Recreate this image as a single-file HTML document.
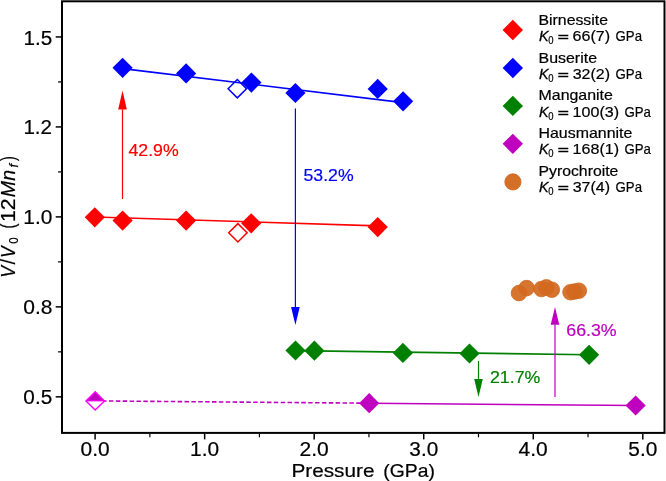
<!DOCTYPE html>
<html><head><meta charset="utf-8"><title>V/V0 vs Pressure</title><style>
html,body{margin:0;padding:0;background:#fff;overflow:hidden;}
svg{display:block;will-change:transform;}
text{font-family:"Liberation Sans", sans-serif;}
</style></head><body>
<svg width="666" height="481" viewBox="0 0 666 481">
<rect x="0" y="0" width="666" height="481" fill="#fff"/>
<line x1="95.10" y1="217.00" x2="377.70" y2="225.90" stroke="#ff0000" stroke-width="1.6" />
<line x1="122.60" y1="68.60" x2="403.10" y2="102.60" stroke="#0000ff" stroke-width="1.6" />
<line x1="295.50" y1="350.60" x2="589.10" y2="354.80" stroke="#008000" stroke-width="1.6" />
<line x1="95.20" y1="400.90" x2="369.20" y2="403.20" stroke="#bf00bf" stroke-width="1.6" stroke-dasharray="4.5 2.37"/>
<line x1="369.20" y1="403.30" x2="635.60" y2="405.50" stroke="#bf00bf" stroke-width="1.6" />
<line x1="122.50" y1="199.00" x2="122.50" y2="109.40" stroke="#ff0000" stroke-width="1.2" /><path d="M118.20 109.40L126.80 109.40L122.50 90.60Z" fill="#ff0000"/>
<line x1="295.40" y1="108.50" x2="295.40" y2="306.90" stroke="#0000ff" stroke-width="1.2" /><path d="M291.10 306.90L299.70 306.90L295.40 325.00Z" fill="#0000ff"/>
<line x1="478.50" y1="361.00" x2="478.50" y2="378.90" stroke="#008000" stroke-width="1.2" /><path d="M474.20 378.90L482.80 378.90L478.50 397.10Z" fill="#008000"/>
<line x1="555.00" y1="397.00" x2="555.00" y2="324.80" stroke="#bf00bf" stroke-width="1.2" /><path d="M550.70 324.80L559.30 324.80L555.00 307.10Z" fill="#bf00bf"/>
<path d="M237.90 223.60L247.10 232.80L237.90 242.00L228.70 232.80Z" fill="none" stroke="#ff0000" stroke-width="1.5"/>
<path d="M237.30 79.50L246.50 88.70L237.30 97.90L228.10 88.70Z" fill="none" stroke="#0000ff" stroke-width="1.5"/>
<path d="M94.80 207.20L104.90 217.30L94.80 227.40L84.70 217.30Z" fill="#ff0000" stroke="none" stroke-width="0"/>
<path d="M122.60 210.50L132.70 220.60L122.60 230.70L112.50 220.60Z" fill="#ff0000" stroke="none" stroke-width="0"/>
<path d="M186.10 210.50L196.20 220.60L186.10 230.70L176.00 220.60Z" fill="#ff0000" stroke="none" stroke-width="0"/>
<path d="M251.20 213.20L261.30 223.30L251.20 233.40L241.10 223.30Z" fill="#ff0000" stroke="none" stroke-width="0"/>
<path d="M377.70 217.00L387.80 227.10L377.70 237.20L367.60 227.10Z" fill="#ff0000" stroke="none" stroke-width="0"/>
<path d="M122.60 57.70L132.70 67.80L122.60 77.90L112.50 67.80Z" fill="#0000ff" stroke="none" stroke-width="0"/>
<path d="M186.10 63.30L196.20 73.40L186.10 83.50L176.00 73.40Z" fill="#0000ff" stroke="none" stroke-width="0"/>
<path d="M251.40 72.50L261.50 82.60L251.40 92.70L241.30 82.60Z" fill="#0000ff" stroke="none" stroke-width="0"/>
<path d="M295.40 82.90L305.50 93.00L295.40 103.10L285.30 93.00Z" fill="#0000ff" stroke="none" stroke-width="0"/>
<path d="M377.70 78.80L387.80 88.90L377.70 99.00L367.60 88.90Z" fill="#0000ff" stroke="none" stroke-width="0"/>
<path d="M403.10 91.20L413.20 101.30L403.10 111.40L393.00 101.30Z" fill="#0000ff" stroke="none" stroke-width="0"/>
<path d="M295.50 340.40L305.60 350.50L295.50 360.60L285.40 350.50Z" fill="#008000" stroke="none" stroke-width="0"/>
<path d="M314.40 340.60L324.50 350.70L314.40 360.80L304.30 350.70Z" fill="#008000" stroke="none" stroke-width="0"/>
<path d="M402.90 342.80L413.00 352.90L402.90 363.00L392.80 352.90Z" fill="#008000" stroke="none" stroke-width="0"/>
<path d="M469.50 343.40L479.60 353.50L469.50 363.60L459.40 353.50Z" fill="#008000" stroke="none" stroke-width="0"/>
<path d="M589.10 344.70L599.20 354.80L589.10 364.90L579.00 354.80Z" fill="#008000" stroke="none" stroke-width="0"/>
<path d="M369.20 393.10L379.30 403.20L369.20 413.30L359.10 403.20Z" fill="#bf00bf" stroke="none" stroke-width="0"/>
<path d="M635.60 395.40L645.70 405.50L635.60 415.60L625.50 405.50Z" fill="#bf00bf" stroke="none" stroke-width="0"/>
<path d="M95.20 391.70L104.40 400.90L95.20 410.10L86.00 400.90Z" fill="#fff" stroke="none" stroke-width="0"/>
<path d="M86.0 400.9L95.2 391.7L104.4 400.9Z" fill="#bf00bf"/>
<path d="M95.20 391.70L104.40 400.90L95.20 410.10L86.00 400.90Z" fill="none" stroke="#ff00ff" stroke-width="1.4"/>
<line x1="86.00" y1="400.90" x2="104.40" y2="400.90" stroke="#ff00ff" stroke-width="1.0" />
<circle cx="519" cy="293.1" r="7.8" fill="rgb(210,105,30)" fill-opacity="0.92" stroke="rgb(210,105,30)" stroke-opacity="0.92" stroke-width="0.9"/>
<circle cx="526.6" cy="288.1" r="7.8" fill="rgb(210,105,30)" fill-opacity="0.92" stroke="rgb(210,105,30)" stroke-opacity="0.92" stroke-width="0.9"/>
<circle cx="541.5" cy="289" r="7.8" fill="rgb(210,105,30)" fill-opacity="0.92" stroke="rgb(210,105,30)" stroke-opacity="0.92" stroke-width="0.9"/>
<circle cx="546.4" cy="287.4" r="7.8" fill="rgb(210,105,30)" fill-opacity="0.92" stroke="rgb(210,105,30)" stroke-opacity="0.92" stroke-width="0.9"/>
<circle cx="551.8" cy="289.7" r="7.8" fill="rgb(210,105,30)" fill-opacity="0.92" stroke="rgb(210,105,30)" stroke-opacity="0.92" stroke-width="0.9"/>
<circle cx="570.5" cy="292.2" r="7.8" fill="rgb(210,105,30)" fill-opacity="0.92" stroke="rgb(210,105,30)" stroke-opacity="0.92" stroke-width="0.9"/>
<circle cx="574.6" cy="291.5" r="7.8" fill="rgb(210,105,30)" fill-opacity="0.92" stroke="rgb(210,105,30)" stroke-opacity="0.92" stroke-width="0.9"/>
<circle cx="578.8" cy="290.7" r="7.8" fill="rgb(210,105,30)" fill-opacity="0.92" stroke="rgb(210,105,30)" stroke-opacity="0.92" stroke-width="0.9"/>
<rect x="62" y="1.3" width="602.5" height="431.6" fill="none" stroke="#000" stroke-width="2"/>
<line x1="95.10" y1="433.90" x2="95.10" y2="439.40" stroke="#000" stroke-width="1.5" />
<line x1="204.64" y1="433.90" x2="204.64" y2="439.40" stroke="#000" stroke-width="1.5" />
<line x1="314.18" y1="433.90" x2="314.18" y2="439.40" stroke="#000" stroke-width="1.5" />
<line x1="423.72" y1="433.90" x2="423.72" y2="439.40" stroke="#000" stroke-width="1.5" />
<line x1="533.26" y1="433.90" x2="533.26" y2="439.40" stroke="#000" stroke-width="1.5" />
<line x1="642.80" y1="433.90" x2="642.80" y2="439.40" stroke="#000" stroke-width="1.5" />
<line x1="149.87" y1="433.90" x2="149.87" y2="437.30" stroke="#000" stroke-width="1.2" />
<line x1="259.41" y1="433.90" x2="259.41" y2="437.30" stroke="#000" stroke-width="1.2" />
<line x1="368.95" y1="433.90" x2="368.95" y2="437.30" stroke="#000" stroke-width="1.2" />
<line x1="478.49" y1="433.90" x2="478.49" y2="437.30" stroke="#000" stroke-width="1.2" />
<line x1="588.03" y1="433.90" x2="588.03" y2="437.30" stroke="#000" stroke-width="1.2" />
<line x1="55.70" y1="36.95" x2="61.00" y2="36.95" stroke="#000" stroke-width="1.5" />
<line x1="55.70" y1="126.92" x2="61.00" y2="126.92" stroke="#000" stroke-width="1.5" />
<line x1="55.70" y1="216.90" x2="61.00" y2="216.90" stroke="#000" stroke-width="1.5" />
<line x1="55.70" y1="306.87" x2="61.00" y2="306.87" stroke="#000" stroke-width="1.5" />
<line x1="55.70" y1="396.85" x2="61.00" y2="396.85" stroke="#000" stroke-width="1.5" />
<line x1="58.00" y1="81.94" x2="61.00" y2="81.94" stroke="#000" stroke-width="1.2" />
<line x1="58.00" y1="171.91" x2="61.00" y2="171.91" stroke="#000" stroke-width="1.2" />
<line x1="58.00" y1="261.89" x2="61.00" y2="261.89" stroke="#000" stroke-width="1.2" />
<line x1="58.00" y1="351.86" x2="61.00" y2="351.86" stroke="#000" stroke-width="1.2" />
<path d="M512.80 19.80L523.00 30.00L512.80 40.20L502.60 30.00Z" fill="#ff0000" stroke="none" stroke-width="0"/>
<path d="M512.80 57.75L523.00 67.95L512.80 78.15L502.60 67.95Z" fill="#0000ff" stroke="none" stroke-width="0"/>
<path d="M512.80 95.70L523.00 105.90L512.80 116.10L502.60 105.90Z" fill="#008000" stroke="none" stroke-width="0"/>
<path d="M512.80 133.65L523.00 143.85L512.80 154.05L502.60 143.85Z" fill="#bf00bf" stroke="none" stroke-width="0"/>
<circle cx="512.9" cy="181.9" r="8.1" fill="rgb(210,105,30)" fill-opacity="0.96" stroke="rgb(210,105,30)" stroke-opacity="0.96" stroke-width="0.9"/>
<text x="80.54" y="456.00" font-size="19.7" fill="#000" stroke="#000" stroke-width="0.2" textLength="29.10" lengthAdjust="spacingAndGlyphs">0.0</text>
<text x="190.11" y="456.00" font-size="19.7" fill="#000" stroke="#000" stroke-width="0.2" textLength="29.06" lengthAdjust="spacingAndGlyphs">1.0</text>
<text x="299.50" y="456.00" font-size="19.7" fill="#000" stroke="#000" stroke-width="0.2" textLength="29.22" lengthAdjust="spacingAndGlyphs">2.0</text>
<text x="409.37" y="456.00" font-size="19.7" fill="#000" stroke="#000" stroke-width="0.2" textLength="28.88" lengthAdjust="spacingAndGlyphs">3.0</text>
<text x="518.64" y="456.00" font-size="19.7" fill="#000" stroke="#000" stroke-width="0.2" textLength="29.15" lengthAdjust="spacingAndGlyphs">4.0</text>
<text x="628.34" y="456.00" font-size="19.7" fill="#000" stroke="#000" stroke-width="0.2" textLength="29.00" lengthAdjust="spacingAndGlyphs">5.0</text>
<text x="23.40" y="45.00" font-size="19.7" fill="#000" stroke="#000" stroke-width="0.2" textLength="28.77" lengthAdjust="spacingAndGlyphs">1.5</text>
<text x="23.41" y="134.00" font-size="19.7" fill="#000" stroke="#000" stroke-width="0.2" textLength="28.67" lengthAdjust="spacingAndGlyphs">1.2</text>
<text x="23.38" y="224.00" font-size="19.7" fill="#000" stroke="#000" stroke-width="0.2" textLength="29.06" lengthAdjust="spacingAndGlyphs">1.0</text>
<text x="23.35" y="314.00" font-size="19.7" fill="#000" stroke="#000" stroke-width="0.2" textLength="29.20" lengthAdjust="spacingAndGlyphs">0.8</text>
<text x="23.36" y="404.00" font-size="19.7" fill="#000" stroke="#000" stroke-width="0.2" textLength="28.82" lengthAdjust="spacingAndGlyphs">0.5</text>
<text x="291.46" y="477.00" font-size="19.0" fill="#000" stroke="#000" stroke-width="0.2" textLength="83.04" lengthAdjust="spacingAndGlyphs">Pressure</text>
<text x="383.36" y="477.00" font-size="19.0" fill="#000" stroke="#000" stroke-width="0.2" textLength="51.55" lengthAdjust="spacingAndGlyphs">(GPa)</text>
<text x="-277.69" y="14.60" font-size="19.5" fill="#000" stroke="#000" stroke-width="0.2" font-style="italic" transform="rotate(-90)" textLength="11.84" lengthAdjust="spacingAndGlyphs">V</text>
<text x="-264.50" y="14.60" font-size="19.5" fill="#000" stroke="#000" stroke-width="0.2" transform="rotate(-90)" textLength="5.55" lengthAdjust="spacingAndGlyphs">/</text>
<text x="-257.98" y="14.60" font-size="19.5" fill="#000" stroke="#000" stroke-width="0.2" font-style="italic" transform="rotate(-90)" textLength="11.74" lengthAdjust="spacingAndGlyphs">V</text>
<text x="-243.85" y="17.60" font-size="13.0" fill="#000" stroke="#000" stroke-width="0.2" transform="rotate(-90)" textLength="6.48" lengthAdjust="spacingAndGlyphs">0</text>
<text x="-228.45" y="14.60" font-size="19.5" fill="#000" stroke="#000" stroke-width="0.2" transform="rotate(-90)" textLength="4.95" lengthAdjust="spacingAndGlyphs">(</text>
<text x="-222.14" y="14.60" font-size="19.5" fill="#000" stroke="#000" stroke-width="0.2" transform="rotate(-90)" textLength="23.68" lengthAdjust="spacingAndGlyphs">12</text>
<text x="-197.23" y="14.60" font-size="19.5" fill="#000" stroke="#000" stroke-width="0.2" font-style="italic" transform="rotate(-90)" textLength="27.28" lengthAdjust="spacingAndGlyphs">Mn</text>
<text x="-167.59" y="17.60" font-size="13.0" fill="#000" stroke="#000" stroke-width="0.2" font-style="italic" transform="rotate(-90)" textLength="3.58" lengthAdjust="spacingAndGlyphs">f</text>
<text x="-160.99" y="14.60" font-size="19.5" fill="#000" stroke="#000" stroke-width="0.2" transform="rotate(-90)" textLength="4.82" lengthAdjust="spacingAndGlyphs">)</text>
<text x="128.50" y="156.00" font-size="16.8" fill="#ff0000" stroke="#ff0000" stroke-width="0.2" textLength="50.22" lengthAdjust="spacingAndGlyphs">42.9%</text>
<text x="303.51" y="181.00" font-size="16.8" fill="#0000ff" stroke="#0000ff" stroke-width="0.2" textLength="50.15" lengthAdjust="spacingAndGlyphs">53.2%</text>
<text x="489.97" y="383.00" font-size="16.8" fill="#008000" stroke="#008000" stroke-width="0.2" textLength="50.35" lengthAdjust="spacingAndGlyphs">21.7%</text>
<text x="566.27" y="336.00" font-size="16.8" fill="#bf00bf" stroke="#bf00bf" stroke-width="0.2" textLength="50.42" lengthAdjust="spacingAndGlyphs">66.3%</text>
<text x="538.53" y="25.00" font-size="14.6" fill="#000" stroke="#000" stroke-width="0.2" textLength="69.42" lengthAdjust="spacingAndGlyphs">Birnessite</text>
<text x="539.01" y="41.00" font-size="14.6" fill="#000" stroke="#000" stroke-width="0.3" font-style="italic" textLength="9.61" lengthAdjust="spacingAndGlyphs">K</text>
<text x="548.25" y="44.00" font-size="10.3" fill="#000" stroke="#000" stroke-width="0.2" textLength="5.28" lengthAdjust="spacingAndGlyphs">0</text>
<text x="558.07" y="41.00" font-size="11.0" fill="#000" stroke="#000" stroke-width="0.7" textLength="10.66" lengthAdjust="spacingAndGlyphs">=</text>
<text x="572.47" y="41.00" font-size="14.6" fill="#000" stroke="#000" stroke-width="0.2" textLength="37.62" lengthAdjust="spacingAndGlyphs">66(7)</text>
<text x="615.57" y="41.00" font-size="14.6" fill="#000" stroke="#000" stroke-width="0.2" textLength="26.44" lengthAdjust="spacingAndGlyphs">GPa</text>
<text x="538.52" y="63.00" font-size="14.6" fill="#000" stroke="#000" stroke-width="0.2" textLength="58.53" lengthAdjust="spacingAndGlyphs">Buserite</text>
<text x="539.01" y="79.00" font-size="14.6" fill="#000" stroke="#000" stroke-width="0.3" font-style="italic" textLength="9.61" lengthAdjust="spacingAndGlyphs">K</text>
<text x="548.25" y="82.00" font-size="10.3" fill="#000" stroke="#000" stroke-width="0.2" textLength="5.28" lengthAdjust="spacingAndGlyphs">0</text>
<text x="558.07" y="79.00" font-size="11.0" fill="#000" stroke="#000" stroke-width="0.7" textLength="10.66" lengthAdjust="spacingAndGlyphs">=</text>
<text x="572.72" y="79.00" font-size="14.6" fill="#000" stroke="#000" stroke-width="0.2" textLength="37.38" lengthAdjust="spacingAndGlyphs">32(2)</text>
<text x="615.57" y="79.00" font-size="14.6" fill="#000" stroke="#000" stroke-width="0.2" textLength="26.44" lengthAdjust="spacingAndGlyphs">GPa</text>
<text x="538.52" y="100.00" font-size="14.6" fill="#000" stroke="#000" stroke-width="0.2" textLength="74.36" lengthAdjust="spacingAndGlyphs">Manganite</text>
<text x="539.01" y="117.00" font-size="14.6" fill="#000" stroke="#000" stroke-width="0.3" font-style="italic" textLength="9.61" lengthAdjust="spacingAndGlyphs">K</text>
<text x="548.25" y="120.00" font-size="10.3" fill="#000" stroke="#000" stroke-width="0.2" textLength="5.28" lengthAdjust="spacingAndGlyphs">0</text>
<text x="558.07" y="117.00" font-size="11.0" fill="#000" stroke="#000" stroke-width="0.7" textLength="10.66" lengthAdjust="spacingAndGlyphs">=</text>
<text x="572.63" y="117.00" font-size="14.6" fill="#000" stroke="#000" stroke-width="0.2" textLength="46.42" lengthAdjust="spacingAndGlyphs">100(3)</text>
<text x="624.54" y="117.00" font-size="14.6" fill="#000" stroke="#000" stroke-width="0.2" textLength="26.44" lengthAdjust="spacingAndGlyphs">GPa</text>
<text x="538.52" y="138.00" font-size="14.6" fill="#000" stroke="#000" stroke-width="0.2" textLength="93.82" lengthAdjust="spacingAndGlyphs">Hausmannite</text>
<text x="539.01" y="154.00" font-size="14.6" fill="#000" stroke="#000" stroke-width="0.3" font-style="italic" textLength="9.61" lengthAdjust="spacingAndGlyphs">K</text>
<text x="548.25" y="157.00" font-size="10.3" fill="#000" stroke="#000" stroke-width="0.2" textLength="5.28" lengthAdjust="spacingAndGlyphs">0</text>
<text x="558.07" y="154.00" font-size="11.0" fill="#000" stroke="#000" stroke-width="0.7" textLength="10.66" lengthAdjust="spacingAndGlyphs">=</text>
<text x="572.63" y="154.00" font-size="14.6" fill="#000" stroke="#000" stroke-width="0.2" textLength="46.42" lengthAdjust="spacingAndGlyphs">168(1)</text>
<text x="624.54" y="154.00" font-size="14.6" fill="#000" stroke="#000" stroke-width="0.2" textLength="26.44" lengthAdjust="spacingAndGlyphs">GPa</text>
<text x="538.53" y="176.00" font-size="14.6" fill="#000" stroke="#000" stroke-width="0.2" textLength="79.86" lengthAdjust="spacingAndGlyphs">Pyrochroite</text>
<text x="539.01" y="192.00" font-size="14.6" fill="#000" stroke="#000" stroke-width="0.3" font-style="italic" textLength="9.61" lengthAdjust="spacingAndGlyphs">K</text>
<text x="548.25" y="195.00" font-size="10.3" fill="#000" stroke="#000" stroke-width="0.2" textLength="5.28" lengthAdjust="spacingAndGlyphs">0</text>
<text x="558.07" y="192.00" font-size="11.0" fill="#000" stroke="#000" stroke-width="0.7" textLength="10.66" lengthAdjust="spacingAndGlyphs">=</text>
<text x="572.72" y="192.00" font-size="14.6" fill="#000" stroke="#000" stroke-width="0.2" textLength="37.38" lengthAdjust="spacingAndGlyphs">37(4)</text>
<text x="615.57" y="192.00" font-size="14.6" fill="#000" stroke="#000" stroke-width="0.2" textLength="26.44" lengthAdjust="spacingAndGlyphs">GPa</text>
</svg></body></html>
